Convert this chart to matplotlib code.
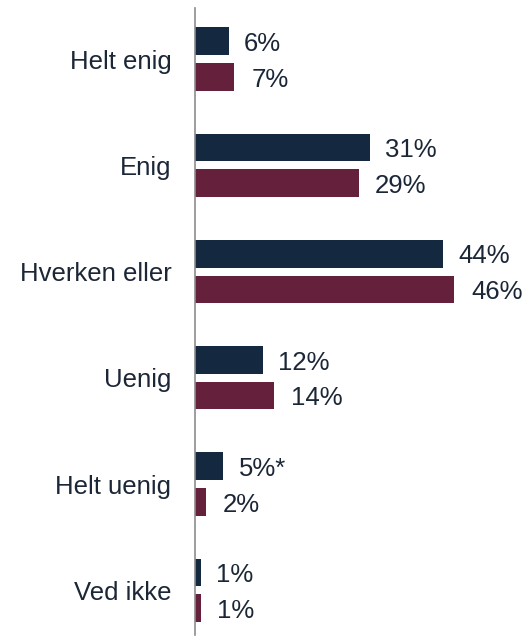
import numpy as np
import matplotlib.pyplot as plt

plt.rcParams['font.family'] = ['Liberation Sans', 'DejaVu Sans']

categories = ["Helt enig", "Enig", "Hverken eller", "Uenig", "Helt uenig", "Ved ikke"]
series_a = [6, 31, 44, 12, 5, 1]
series_b = [7, 29, 46, 14, 2, 1]
labels_a = ["6%", "31%", "44%", "12%", "5%*", "1%"]
labels_b = ["7%", "29%", "46%", "14%", "2%", "1%"]

navy = "#14293f"
maroon = "#65203c"
text_color = "#1b2636"

fig = plt.figure(figsize=(5.26, 6.38), dpi=100)
ax = fig.add_axes([195 / 526, 3 / 638, 1 - 195 / 526, 627 / 638])

y = np.arange(len(categories))
h = 0.26
off = 0.168
ax.barh(y - off, series_a, height=h, color=navy)
ax.barh(y + off, series_b, height=h, color=maroon)

for yi, v, lab in zip(y - off, series_a, labels_a):
    ax.annotate(lab, (v, yi), xytext=(11, -2), textcoords="offset points",
                va="center", ha="left", fontsize=18.5, color=text_color)
for yi, v, lab in zip(y + off, series_b, labels_b):
    ax.annotate(lab, (v, yi), xytext=(12, -2), textcoords="offset points",
                va="center", ha="left", fontsize=18.5, color=text_color)

ax.set_yticks(y)
ax.set_yticklabels(categories, fontsize=18.5, color=text_color)
ax.tick_params(axis="y", length=0, pad=17)
ax.set_xticks([])
ax.set_xlim(0, 58.7)
ax.set_ylim(5.42, -0.48)

for s in ["top", "right", "bottom"]:
    ax.spines[s].set_visible(False)
ax.spines["left"].set_color("#8c8c8c")
ax.spines["left"].set_linewidth(1.2)

fig.savefig("out.png", dpi=100)
